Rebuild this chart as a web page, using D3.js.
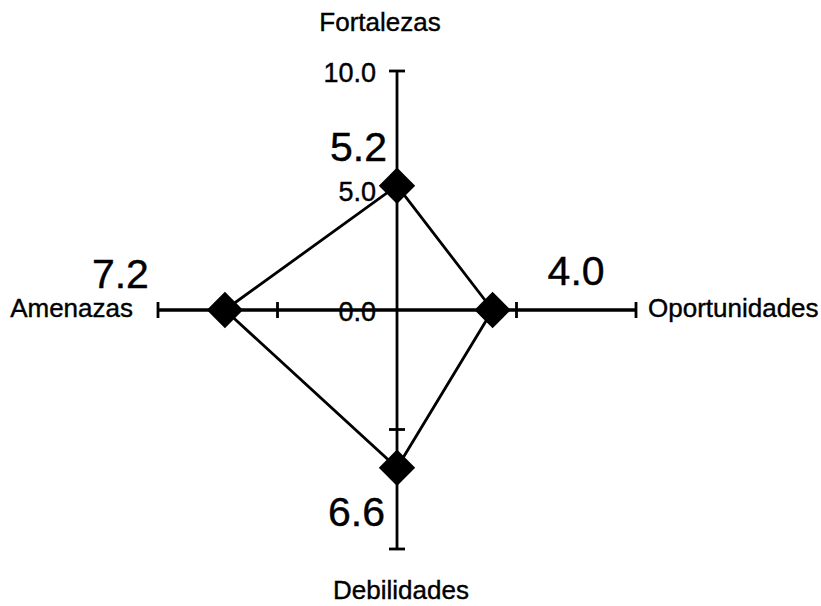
<!DOCTYPE html>
<html>
<head>
<meta charset="utf-8">
<script src="https://cdn.jsdelivr.net/npm/d3@7"></script>
<style>
  html, body { margin: 0; padding: 0; background: #ffffff; }
  svg { display: block; font-family: "Liberation Sans", Arial, sans-serif; }
  text { stroke: #000; stroke-width: 0.4px; }
</style>
</head>
<body>
<div id="chart"></div>
<script>
// axes clockwise from the top
const categories = ["Fortalezas", "Oportunidades", "Debilidades", "Amenazas"];
const values = [5.2, 4.0, 6.6, 7.2];
const tickValues = [0, 5, 10];
const tickLabels = ["0.0", "5.0", "10.0"];

const width = 821;
const height = 606;
const cx = 397;
const cy = 310;
const radius = 239;
const lineW = 2.8;

const r = d3.scaleLinear().domain([0, 10]).range([0, radius]);

// angle per axis, 0 = up, clockwise
const ang = i => i * Math.PI / 2;
const px = (i, v) => cx + r(v) * Math.sin(ang(i));
const py = (i, v) => cy - r(v) * Math.cos(ang(i));

const svg = d3.select("#chart").append("svg")
  .attr("width", width)
  .attr("height", height);

// Axes
categories.forEach((c, i) => {
  svg.append("line")
    .attr("x1", cx).attr("y1", cy)
    .attr("x2", px(i, 10)).attr("y2", py(i, 10))
    .attr("stroke", "#000").attr("stroke-width", lineW);

  // tick marks perpendicular to the axis
  tickValues.filter(t => t > 0).forEach(t => {
    const x = px(i, t), y = py(i, t);
    const dx = 8 * Math.cos(ang(i)), dy = 8 * Math.sin(ang(i));
    svg.append("line")
      .attr("x1", x - dx).attr("y1", y - dy)
      .attr("x2", x + dx).attr("y2", y + dy)
      .attr("stroke", "#000").attr("stroke-width", lineW);
  });
});

// Tick labels on the vertical axis
const yTick = r.copy().range([cy, cy - radius]);
svg.selectAll(".tick-label")
  .data(tickValues)
  .join("text")
  .attr("class", "tick-label")
  .attr("x", cx - 21)
  .attr("y", d => yTick(d) + 1)
  .attr("dy", "0.36em")
  .attr("text-anchor", "end")
  .attr("font-size", "27px")
  .attr("fill", "#000")
  .text((d, i) => tickLabels[i]);

// horizontal axis again, over "0.0" like the reference
svg.append("line")
  .attr("x1", px(3, 10)).attr("y1", cy)
  .attr("x2", px(1, 10)).attr("y2", cy)
  .attr("stroke", "#000").attr("stroke-width", lineW);

// Value polygon
const pts = values.map((v, i) => [px(i, v), py(i, v)]);
svg.append("path")
  .attr("d", d3.line().curve(d3.curveLinearClosed)(pts))
  .attr("fill", "none")
  .attr("stroke", "#000")
  .attr("stroke-width", lineW);

// Diamond markers
const diamond = d3.symbol().type(d3.symbolSquare).size(660);
svg.selectAll(".marker")
  .data(pts)
  .join("path")
  .attr("class", "marker")
  .attr("d", diamond())
  .attr("transform", d => `translate(${d[0]},${d[1]}) rotate(45)`)
  .attr("fill", "#000");

// Value labels, offsets relative to each marker
const valueLabelOffset = [
  { dx: -10, dy: -25, anchor: "end" },
  { dx: 55,  dy: -25, anchor: "start" },
  { dx: -12, dy: 58,  anchor: "end" },
  { dx: -76, dy: -22, anchor: "end" }
];
svg.selectAll(".value-label")
  .data(values)
  .join("text")
  .attr("class", "value-label")
  .attr("x", (d, i) => pts[i][0] + valueLabelOffset[i].dx)
  .attr("y", (d, i) => pts[i][1] + valueLabelOffset[i].dy)
  .attr("text-anchor", (d, i) => valueLabelOffset[i].anchor)
  .attr("font-size", "41px")
  .attr("fill", "#000")
  .text(d => d.toFixed(1));

// Category labels at axis ends
const catLabelPos = [
  { x: 380, y: 31,  anchor: "middle" },
  { x: 648, y: 317, anchor: "start" },
  { x: 401, y: 599, anchor: "middle" },
  { x: 133, y: 317, anchor: "end" }
];
svg.selectAll(".cat-label")
  .data(categories)
  .join("text")
  .attr("class", "cat-label")
  .attr("x", (d, i) => catLabelPos[i].x)
  .attr("y", (d, i) => catLabelPos[i].y)
  .attr("text-anchor", (d, i) => catLabelPos[i].anchor)
  .attr("font-size", "26px")
  .attr("fill", "#000")
  .text(d => d);
</script>
</body>
</html>
